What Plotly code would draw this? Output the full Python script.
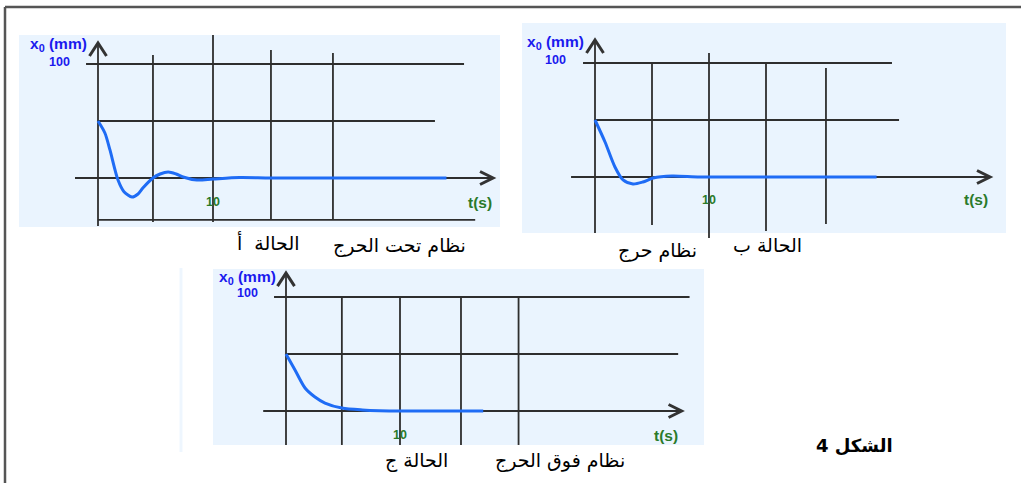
import plotly.graph_objects as go

W, H = 1021, 483

# ---- response curves x0(t): t in s, x0 in mm ----
t_under = [0, 0.6, 1.04, 1.74, 2.26, 2.96, 3.48, 3.9, 4.78, 5.4, 6.1, 6.8, 7.4, 8.6, 10, 12.3, 15, 20, 25, 30.3]
x_under = [50, 39.5, 24.6, -1.8, -12, -16.7, -14, -8.8, 0, 3.5, 5.3, 3.5, 0.9, -1.8, -0.9, 0.4, 0, 0, 0, 0]

t_crit = [0, 0.88, 1.75, 2.46, 3.33, 4.2, 5.1, 6.75, 9.2, 15, 20, 24.7]
x_crit = [50, 30.7, 8.8, -2.6, -6.1, -4.4, -0.9, 0.9, 0, 0, 0, 0]

t_over = [0, 0.79, 1.67, 2.54, 3.42, 4.9, 6.7, 8.2, 12, 17.3]
x_over = [50, 36, 20.2, 12.3, 7, 2.6, 0.9, 0.3, 0, 0]

y_label = "<b>x<sub>0</sub> (mm)</b>"
y_tick = "<b>100</b>"
x_tick = "<b>10</b>"
x_label = "<b>t(s)</b>"

case_names = ["الحالة  أ", "الحالة ب", "الحالة ج"]
system_names = ["نظام تحت الحرج", "نظام حرج", "نظام فوق الحرج"]
figure_title = "\u202bالشكل 4\u202c"

BG = "#eaf4fe"
GRID = "#2e2e2e"
CURVE = "#1f6cf5"
BLUE_TXT = "#1a1aee"
GREEN_TXT = "#2a7a2a"
ARROW = "#333333"


def px(x):
    return x / W


def py(y):
    return 1 - y / H


# Each panel: plotting frame in pixels, pixel position of the origin and
# pixels per unit (s, mm); light-blue background box; guide lines in data units.
panels = [
    dict(frame=(19, 33, 500, 229), bg=(19, 35, 500, 227),
         origin=(98, 178), scale=(11.5, 1.14),
         hlines=[(100, -1.04, 31.83), (50, 0, 29.3), (-36.8, 0, 32.8)],
         axis=(-2.0, 34.35),
         vlines=[(4.78, 107.9, -38.6), (10, 125.4, -38.6), (15.04, 112.3, -36.8), (20.43, 109.6, -36.8)],
         yaxis=(118.4, -42.1),
         t=t_under, x=x_under,
         lab_y=(89, 45), lab_100=(72, 62), lab_10y=202, lab_t=(480, 202),
         case=(268, 243), system=(399, 245)),
    dict(frame=(522, 21, 1006, 240), bg=(522, 23, 1006, 233),
         origin=(595, 177), scale=(11.4, 1.14),
         hlines=[(100, -1.05, 26.05), (50, 0, 26.67)],
         axis=(-2.1, 34.65),
         vlines=[(5.0, 100, -42.1), (10, 108.8, -53.5), (15.0, 100, -47.4), (20.26, 95.6, -41.2)],
         yaxis=(120.2, -49.1),
         t=t_crit, x=x_crit,
         lab_y=(586, 43), lab_100=(568, 60), lab_10y=200, lab_t=(976, 200),
         case=(767, 245), system=(657, 250)),
    dict(frame=(213, 266, 704, 447), bg=(213, 269, 704, 445),
         origin=(286, 411), scale=(11.4, 1.14),
         hlines=[(100, -1.05, 35.4), (50, 0, 34.4)],
         axis=(-2.0, 34.7),
         vlines=[(4.9, 100, -29.8), (10, 100, -29.8), (15.35, 100, -29.8), (20.4, 100, -29.8)],
         yaxis=(121, -29.8),
         t=t_over, x=x_over,
         lab_y=(278, 277), lab_100=(260, 293), lab_10y=435, lab_t=(666, 435),
         case=(416, 460), system=(560, 460)),
]

fig = go.Figure()
shapes = []
annotations = []
layout_axes = {}

# outer frame (top and left edges)
shapes.append(dict(type="line", xref="paper", yref="paper", x0=px(5), x1=px(1021), y0=py(7), y1=py(7),
                   line=dict(color="#555555", width=2.5), layer="below"))
shapes.append(dict(type="line", xref="paper", yref="paper", x0=px(5), x1=px(5), y0=py(7), y1=py(483),
                   line=dict(color="#555555", width=2.5), layer="below"))
shapes.append(dict(type="line", xref="paper", yref="paper", x0=px(181), x1=px(181), y0=py(268), y1=py(452),
                   line=dict(color="#eef6fe", width=3), layer="below"))

for i, p in enumerate(panels, start=1):
    xa = "x" if i == 1 else f"x{i}"
    ya = "y" if i == 1 else f"y{i}"
    left, top, right, bottom = p["frame"]
    ox, oy = p["origin"]
    sx, sy = p["scale"]
    layout_axes["xaxis" if i == 1 else f"xaxis{i}"] = dict(
        domain=[px(left), px(right)], range=[(left - ox) / sx, (right - ox) / sx],
        visible=False, anchor=ya, fixedrange=True)
    layout_axes["yaxis" if i == 1 else f"yaxis{i}"] = dict(
        domain=[py(bottom), py(top)], range=[(oy - bottom) / sy, (oy - top) / sy],
        visible=False, anchor=xa, fixedrange=True)

    bl, bt, br, bb = p["bg"]
    shapes.append(dict(type="rect", xref="paper", yref="paper", x0=px(bl), x1=px(br), y0=py(bb), y1=py(bt),
                       fillcolor=BG, line=dict(width=0), layer="below"))

    gl = dict(color=GRID, width=1.8)
    for v, t0, t1 in p["hlines"]:
        shapes.append(dict(type="line", xref=xa, yref=ya, x0=t0, x1=t1, y0=v, y1=v, line=gl, layer="below"))
    a0, a1 = p["axis"]
    shapes.append(dict(type="line", xref=xa, yref=ya, x0=a0, x1=a1, y0=0, y1=0, line=gl, layer="below"))
    for t, v0, v1 in p["vlines"]:
        shapes.append(dict(type="line", xref=xa, yref=ya, x0=t, x1=t, y0=v0, y1=v1, line=gl, layer="below"))
    y0v, y1v = p["yaxis"]
    shapes.append(dict(type="line", xref=xa, yref=ya, x0=0, x1=0, y0=y0v, y1=y1v, line=gl, layer="below"))

    # arrow heads (open chevrons)
    dt, dv = 13 / sx, 6.5 / sy
    shapes.append(dict(type="path", xref=xa, yref=ya,
                       path=f"M {a1 - dt},{dv} L {a1},0 L {a1 - dt},{-dv}",
                       line=dict(color=ARROW, width=3), layer="above"))
    dt, dv = 8.5 / sx, 13 / sy
    shapes.append(dict(type="path", xref=xa, yref=ya,
                       path=f"M {-dt},{y0v - dv} L 0,{y0v} L {dt},{y0v - dv}",
                       line=dict(color=ARROW, width=3), layer="above"))

    fig.add_trace(go.Scatter(x=p["t"], y=p["x"], mode="lines", xaxis=xa, yaxis=ya,
                             line=dict(color=CURVE, width=3, shape="spline", smoothing=0.8),
                             hoverinfo="skip", showlegend=False))

    # texts
    lx, ly = p["lab_y"]
    annotations.append(dict(text=y_label, x=px(lx), y=py(ly), xref="paper", yref="paper",
                            xanchor="right", yanchor="middle", showarrow=False,
                            font=dict(family="Liberation Sans", size=15.5, color=BLUE_TXT)))
    lx, ly = p["lab_100"]
    annotations.append(dict(text=y_tick, x=px(lx), y=py(ly), xref="paper", yref="paper",
                            xanchor="right", yanchor="middle", showarrow=False,
                            font=dict(family="Liberation Sans", size=12.5, color=BLUE_TXT)))
    annotations.append(dict(text=x_tick, x=10, y=py(p["lab_10y"]), xref=xa, yref="paper",
                            xanchor="center", yanchor="middle", showarrow=False,
                            font=dict(family="Liberation Sans", size=12.5, color=GREEN_TXT)))
    lx, ly = p["lab_t"]
    annotations.append(dict(text=x_label, x=px(lx), y=py(ly), xref="paper", yref="paper",
                            xanchor="center", yanchor="middle", showarrow=False,
                            font=dict(family="Liberation Sans", size=15.5, color=GREEN_TXT)))
    lx, ly = p["case"]
    annotations.append(dict(text=case_names[i - 1], x=px(lx), y=py(ly), xref="paper", yref="paper",
                            xanchor="center", yanchor="middle", showarrow=False,
                            font=dict(family="DejaVu Sans", size=19, color="#000000")))
    lx, ly = p["system"]
    annotations.append(dict(text=system_names[i - 1], x=px(lx), y=py(ly), xref="paper", yref="paper",
                            xanchor="center", yanchor="middle", showarrow=False,
                            font=dict(family="DejaVu Sans", size=19, color="#000000")))

annotations.append(dict(text=f"<b>{figure_title}</b>", x=px(854), y=py(445), xref="paper", yref="paper",
                        xanchor="center", yanchor="middle", showarrow=False,
                        font=dict(family="DejaVu Sans", size=18, color="#000000")))

fig.update_layout(
    width=W, height=H,
    margin=dict(l=0, r=0, t=0, b=0),
    paper_bgcolor="white",
    plot_bgcolor="rgba(0,0,0,0)",
    shapes=shapes,
    annotations=annotations,
    showlegend=False,
    **layout_axes,
)

fig.write_html("out.html", config={"displayModeBar": False})
